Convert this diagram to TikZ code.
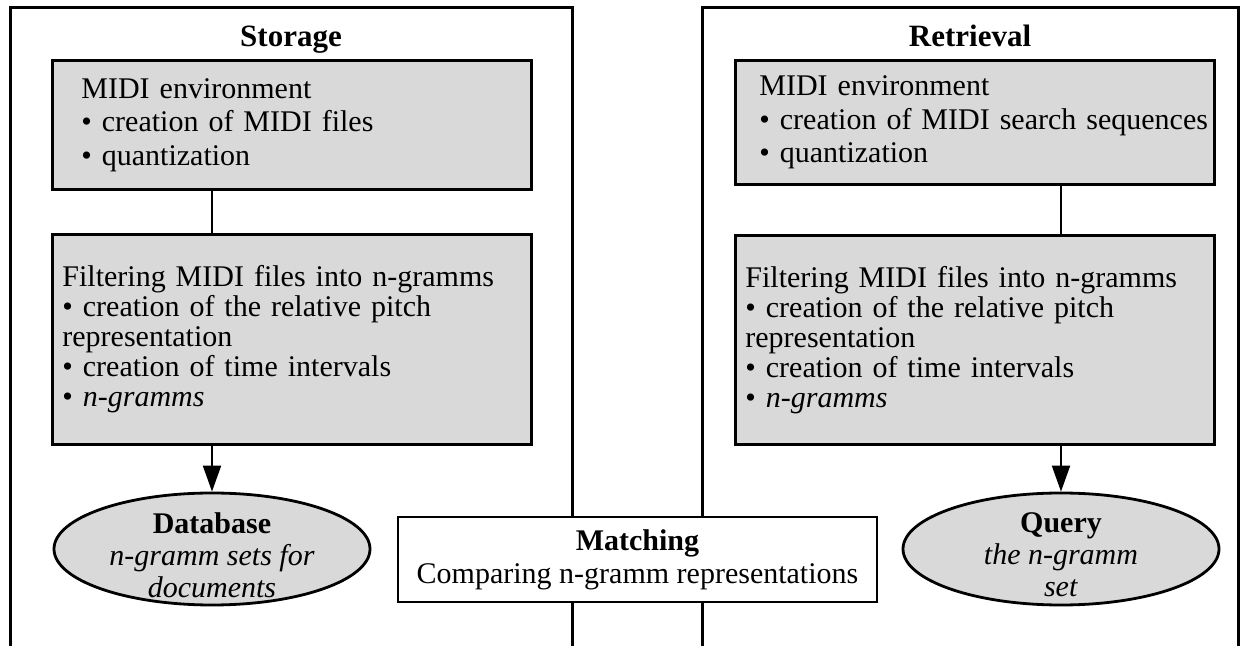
\documentclass[tikz,border=0pt]{standalone}
\usepackage{fontspec}
\setmainfont{Liberation Serif}
\usetikzlibrary{arrows.meta,shapes.geometric}

\tikzset{
	frame/.style={line width=1.5pt},
	stepbox/.style={draw, line width=1.4pt, fill=black!15, align=left, anchor=north west, inner ysep=0pt, font=\fontsize{15}{16.7}\selectfont},
	setell/.style={ellipse, draw, line width=1.4pt, fill=black!15, minimum width=158pt, minimum height=56pt, inner sep=0pt},
	settext/.style={align=center, font=\fontsize{15}{16}\selectfont},
	matchbox/.style={draw, line width=1.4pt, fill=white, align=center, minimum width=239.5pt, minimum height=42.5pt, font=\fontsize{15}{16.5}\selectfont},
	title/.style={anchor=base, font=\fontsize{15.5}{16}\selectfont\bfseries},
	link/.style={line width=1pt},
	flow/.style={line width=1pt, -{Triangle[length=13pt,width=9pt]}},
}

\begin{document}
\begin{tikzpicture}[x=0.5pt, y=-0.5pt]
		%%%%% START %%%%%
		\useasboundingbox (0,0) rectangle (1248,646);
		
		\draw[frame] (10,646) -- (10,8) -- (572,8) -- (572,646);
		\draw[frame] (702,646) -- (702,8) -- (1238,8) -- (1238,646);
		
		\coordinate (sAxis) at (212,0);
		\coordinate (rAxis) at (1061,0);
		
		% storage side
		\node[title] (sTitle) at (291,47) {Storage};
		\node[stepbox, text width=210.5pt, inner xsep=14.5pt, minimum height=64.5pt] (sEnv) at (51,59) {MIDI environment\\ \textbullet{} creation of MIDI files\\ \textbullet{} quantization};
		\node[stepbox, text width=229.5pt, inner xsep=5pt, minimum height=105pt, font=\fontsize{15}{15}\selectfont] (sFilt) at (51,233) {Filtering MIDI files into n-gramms\\ \textbullet{} creation of the relative pitch\\ representation\\ \textbullet{} creation of time intervals\\ \textbullet{} \textit{n-gramms}};
		\node[setell] (db) at (212,549) {};
		\node[settext] (dbText) at ([yshift=-3pt]db.center) {\textbf{Database}\\ \textit{n-gramm sets for}\\ \textit{documents}};
		
		\draw[link] (sEnv.south -| sAxis) -- (sFilt.north -| sAxis);
		\draw[flow] (sFilt.south -| sAxis) -- (db.north);
		
		% retrieval side
		\node[title] (rTitle) at (970,47) {Retrieval};
		\node[stepbox, text width=215.5pt, inner xsep=12pt, minimum height=62pt] (rEnv) at (734,59) {MIDI environment\\ \mbox{\textbullet{} creation of MIDI search sequences}\\ \textbullet{} quantization};
		\node[stepbox, text width=229.5pt, inner xsep=5pt, minimum height=104.5pt, font=\fontsize{15}{15}\selectfont] (rFilt) at (734,234) {Filtering MIDI files into n-gramms\\ \textbullet{} creation of the relative pitch\\ representation\\ \textbullet{} creation of time intervals\\ \textbullet{} \textit{n-gramms}};
		\node[setell] (query) at (1061,549) {};
		\node[settext] (queryText) at ([yshift=-3pt]query.center) {\textbf{Query}\\ \textit{the n-gramm}\\ \textit{set}};
		
		\draw[link] (rEnv.south -| rAxis) -- (rFilt.north -| rAxis);
		\draw[flow] (rFilt.south -| rAxis) -- (query.north);
		
		% in between
		\node[matchbox] (match) at (637.5,559.5) {\textbf{Matching}\\ Comparing n-gramm representations};
		
		%%%%% END %%%%%
\end{tikzpicture}
\end{document}
